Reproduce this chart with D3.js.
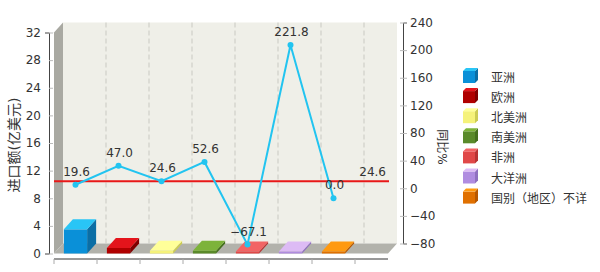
<!DOCTYPE html>
<html>
<head>
    <meta charset="utf-8">
    <script src="https://d3js.org/d3.v7.min.js"></script>
    <style>
        body { margin: 0; background: #fff; }
        text { font-family: "DejaVu Sans", "Noto Sans CJK SC", sans-serif; fill: #333; }
    </style>
</head>
<body>
    <svg id="chart"></svg>
    <script>
        // data
        const regions = ["亚洲", "欧洲", "北美洲", "南美洲", "非洲", "大洋洲", "国别（地区）不详"];
        const imports = [3.5, 0.8, 0.4, 0.4, 0.3, 0.3, 0.3];       // 亿美元
        const growth = [19.6, 47.0, 24.6, 52.6, -67.1, 221.8, 0.0]; // %
        const totalGrowth = 24.6;
        const leftTicks = [0, 4, 8, 12, 16, 20, 24, 28, 32];
        const rightTicks = [-80, -40, 0, 40, 80, 120, 160, 200, 240];
        const fronts = ["#0A90D8", "#B00000", "#F5F27A", "#5A8A2A", "#E04848", "#B08CE0", "#E07000"];
        const tops = ["#29C5F6", "#E4141B", "#FFFF99", "#7DB33A", "#F26464", "#DDBBF5", "#FF9910"];
        const sides = ["#0B6EA5", "#800000", "#CCCC55", "#46701E", "#B83434", "#9070C0", "#B85800"];

        const DX = 9, DY = 10;           // 3d depth
        const pL = 54, pR = 388;          // front plane
        const pT = 32.5, pB = 253.5;

        const svg = d3.select('#chart')
            .attr('width', 600)
            .attr('height', 272);

        const x = d3.scaleBand().domain(regions).range([54, 355])
            .paddingInner(0.46).paddingOuter(0.23);
        const step = x.step();
        const yL = d3.scaleLinear().domain([0, 32]).range([pB, pT]);
        const yR = d3.scaleLinear().domain([-80, 240]).range([pB, pT]);

        // walls
        svg.append('rect')
            .attr('x', pL + DX).attr('y', pT - DY)
            .attr('width', pR - pL).attr('height', pB - pT)
            .attr('fill', '#EFEFE8');
        svg.append('polygon')
            .attr('points', [[pL, pT], [pL + DX, pT - DY], [pL + DX, pB - DY], [pL, pB]].join(' '))
            .attr('fill', '#A9A9A2');
        svg.append('polygon')
            .attr('points', [[pL, pB], [pL + DX, pB - DY], [pR + DX, pB - DY], [pR, pB]].join(' '))
            .attr('fill', '#B2B2AB');

        // dashed grid on back wall
        const bounds = d3.range(1, regions.length + 1).map(i => 54 + i * step);
        svg.selectAll('.grid').data(bounds).join('line')
            .attr('x1', d => d + DX).attr('x2', d => d + DX)
            .attr('y1', pT - DY).attr('y2', pB - DY)
            .attr('stroke', '#C9C9C2').attr('stroke-dasharray', '5,3');

        // left axis
        const gl = svg.append('g').attr('transform', 'translate(49,0)')
            .call(d3.axisLeft(yL).tickValues(leftTicks).tickSize(4).tickPadding(4));
        gl.select('.domain').attr('stroke', '#444');
        gl.selectAll('.tick line').attr('stroke', '#bbb').attr('x2', 4);
        gl.selectAll('text').style('font-size', '12px').attr('fill', '#333');

        // right axis (back plane)
        const gr = svg.append('g').attr('transform', `translate(403,${-DY})`)
            .call(d3.axisRight(yR).tickValues(rightTicks).tickSize(4).tickPadding(3));
        gr.select('.domain').attr('stroke', '#444');
        gr.selectAll('.tick line').attr('stroke', '#bbb').attr('x1', -3);
        gr.selectAll('text').style('font-size', '12px').attr('fill', '#333');

        // bottom axis
        svg.append('line').attr('x1', pL).attr('x2', pR).attr('y1', 259).attr('y2', 259)
            .attr('stroke', '#333');
        svg.selectAll('.xt').data([54].concat(bounds)).join('line')
            .attr('x1', d => d).attr('x2', d => d).attr('y1', 259).attr('y2', 264)
            .attr('stroke', '#aaa');

        // axis titles
        svg.append('text')
            .attr('transform', 'translate(19,145) rotate(-90)')
            .attr('text-anchor', 'middle')
            .style('font-size', '14px')
            .text('进口额(亿美元)');
        svg.append('text')
            .attr('transform', 'translate(438,147) rotate(90)')
            .attr('text-anchor', 'middle')
            .style('font-size', '12px')
            .text('同比%');

        // 3d bars
        const bars = svg.append('g');
        regions.forEach((r, i) => {
            const x0 = x(r), x1 = x(r) + x.bandwidth();
            const yt = yL(imports[i]), yb = yL(0);
            bars.append('polygon')
                .attr('points', [[x1, yt], [x1 + DX, yt - DY], [x1 + DX, yb - DY], [x1, yb]].join(' '))
                .attr('fill', sides[i]);
            bars.append('rect')
                .attr('x', x0).attr('y', yt).attr('width', x1 - x0).attr('height', yb - yt)
                .attr('fill', fronts[i]);
            bars.append('polygon')
                .attr('points', [[x0, yt], [x0 + DX, yt - DY], [x1 + DX, yt - DY], [x1, yt]].join(' '))
                .attr('fill', tops[i]);
        });

        // total growth trend line
        svg.append('line')
            .attr('x1', pL).attr('x2', pR + 1)
            .attr('y1', yR(totalGrowth)).attr('y2', yR(totalGrowth))
            .attr('stroke', '#E81818').attr('stroke-width', 2);
        svg.append('text')
            .attr('x', 386).attr('y', yR(totalGrowth) - 5)
            .attr('text-anchor', 'end')
            .style('font-size', '12px')
            .text(totalGrowth.toFixed(1));

        // growth line
        const cx = r => x(r) + x.bandwidth() / 2;
        const line = d3.line().x((d, i) => cx(regions[i])).y(d => yR(d));
        svg.append('path')
            .datum(growth)
            .attr('d', line)
            .attr('fill', 'none')
            .attr('stroke', '#22C4F0')
            .attr('stroke-width', 2);
        svg.selectAll('.pt').data(growth).join('circle')
            .attr('cx', (d, i) => cx(regions[i]))
            .attr('cy', d => yR(d))
            .attr('r', 3)
            .attr('fill', '#22C4F0');
        svg.selectAll('.lbl').data(growth).join('text')
            .attr('x', (d, i) => cx(regions[i]) + 1)
            .attr('y', d => yR(d) - 9)
            .attr('text-anchor', 'middle')
            .style('font-size', '12px')
            .text(d => d.toFixed(1).replace('-', '−'));

        // legend
        const lg = svg.append('g');
        regions.forEach((r, i) => {
            const yc = 77 + i * 20.1;
            const bx = 463, by = yc - 6, s = 12, d = 3;
            lg.append('polygon')
                .attr('points', [[bx + s, by], [bx + s + d, by - d], [bx + s + d, by + s - d], [bx + s, by + s]].join(' '))
                .attr('fill', sides[i]);
            lg.append('rect').attr('x', bx).attr('y', by).attr('width', s).attr('height', s)
                .attr('fill', fronts[i]);
            lg.append('polygon')
                .attr('points', [[bx, by], [bx + d, by - d], [bx + s + d, by - d], [bx + s, by]].join(' '))
                .attr('fill', tops[i]);
            lg.append('text')
                .attr('x', 491).attr('y', yc + 5)
                .style('font-size', '12px')
                .text(r);
        });
    </script>
</body>
</html>
